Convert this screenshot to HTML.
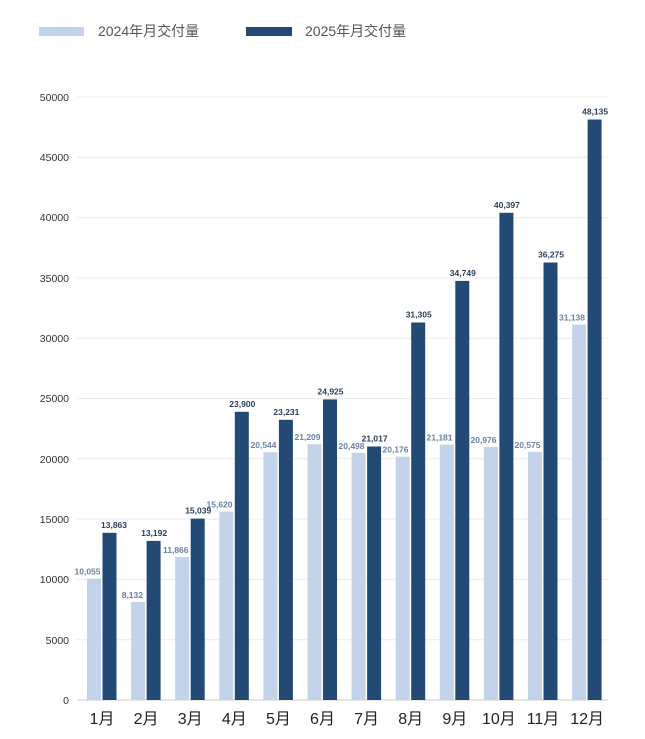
<!DOCTYPE html>
<html><head><meta charset="utf-8"><style>
html,body{margin:0;padding:0;background:#fff;}
svg{display:block;font-family:"Liberation Sans","Noto Sans CJK SC",sans-serif;}
</style></head><body>
<svg width="645" height="739" viewBox="0 0 645 739" xmlns="http://www.w3.org/2000/svg">
<rect x="39" y="27" width="45" height="9" fill="#c3d3e9"/>
<text x="98" y="36" font-size="14" fill="#555">2024年月交付量</text>
<rect x="246" y="27" width="46" height="9" fill="#234a74"/>
<text x="305" y="36" font-size="14" fill="#555">2025年月交付量</text>
<g stroke="#ececec" stroke-width="1">
<line x1="77" x2="608" y1="97" y2="97"/><line x1="77" x2="608" y1="157.3" y2="157.3"/>
<line x1="77" x2="608" y1="217.6" y2="217.6"/><line x1="77" x2="608" y1="277.9" y2="277.9"/>
<line x1="77" x2="608" y1="338.2" y2="338.2"/><line x1="77" x2="608" y1="398.5" y2="398.5"/>
<line x1="77" x2="608" y1="458.8" y2="458.8"/><line x1="77" x2="608" y1="519.1" y2="519.1"/>
<line x1="77" x2="608" y1="579.4" y2="579.4"/><line x1="77" x2="608" y1="639.7" y2="639.7"/>
</g>
<line x1="77" x2="608" y1="700" y2="700" stroke="#ccc"/>
<g font-size="10.5" fill="#333" text-anchor="end">
<text x="69" y="101">50000</text><text x="69" y="161">45000</text><text x="69" y="221">40000</text>
<text x="69" y="282">35000</text><text x="69" y="342">30000</text><text x="69" y="402">25000</text>
<text x="69" y="463">20000</text><text x="69" y="523">15000</text><text x="69" y="583">10000</text>
<text x="69" y="644">5000</text><text x="69" y="704">0</text>
</g>
<g fill="#c3d3e9">
<rect x="87" y="578.7" width="14" height="121.3"/>
<rect x="131.1" y="601.9" width="14" height="98.1"/>
<rect x="175.2" y="556.9" width="14" height="143.1"/>
<rect x="219.3" y="511.6" width="14" height="188.4"/>
<rect x="263.4" y="452.2" width="14" height="247.8"/>
<rect x="307.5" y="444.2" width="14" height="255.8"/>
<rect x="351.6" y="452.8" width="14" height="247.2"/>
<rect x="395.7" y="456.7" width="14" height="243.3"/>
<rect x="439.8" y="444.6" width="14" height="255.4"/>
<rect x="483.9" y="447" width="14" height="253"/>
<rect x="528" y="451.9" width="14" height="248.1"/>
<rect x="572.1" y="324.5" width="14" height="375.5"/>
</g>
<g fill="#234a74">
<rect x="102.5" y="532.8" width="14" height="167.2"/>
<rect x="146.6" y="540.9" width="14" height="159.1"/>
<rect x="190.7" y="518.6" width="14" height="181.4"/>
<rect x="234.8" y="411.8" width="14" height="288.2"/>
<rect x="278.9" y="419.8" width="14" height="280.2"/>
<rect x="323" y="399.4" width="14" height="300.6"/>
<rect x="367.1" y="446.5" width="14" height="253.5"/>
<rect x="411.2" y="322.5" width="14" height="377.5"/>
<rect x="455.3" y="280.9" width="14" height="419.1"/>
<rect x="499.4" y="212.8" width="14" height="487.2"/>
<rect x="543.5" y="262.5" width="14" height="437.5"/>
<rect x="587.6" y="119.5" width="14" height="580.5"/>
</g>
<g font-size="8.5" font-weight="bold" fill="#6a82a0" text-anchor="end">
<text x="100.5" y="574.7">10,055</text>
<text x="143" y="597.9">8,132</text>
<text x="188.5" y="552.9">11,866</text>
<text x="232.5" y="507.6">15,620</text>
<text x="276.5" y="448.2">20,544</text>
<text x="320.5" y="440.2">21,209</text>
<text x="364.5" y="448.8">20,498</text>
<text x="408.5" y="452.7">20,176</text>
<text x="452.5" y="440.6">21,181</text>
<text x="496.5" y="443">20,976</text>
<text x="540.5" y="447.9">20,575</text>
<text x="585" y="320.5">31,138</text>
</g>
<g font-size="8.5" font-weight="bold" fill="#2a3f5a" text-anchor="middle">
<text x="114" y="527.8">13,863</text>
<text x="154.1" y="535.9">13,192</text>
<text x="198.2" y="513.6">15,039</text>
<text x="242.3" y="406.8">23,900</text>
<text x="286.4" y="414.8">23,231</text>
<text x="330.5" y="394.4">24,925</text>
<text x="374.6" y="441.5">21,017</text>
<text x="418.7" y="317.5">31,305</text>
<text x="462.8" y="275.9">34,749</text>
<text x="506.9" y="207.8">40,397</text>
<text x="551" y="257.5">36,275</text>
<text x="595.1" y="114.5">48,135</text>
</g>
<g font-size="16" fill="#222" text-anchor="middle">
<text x="102" y="724">1月</text><text x="146.1" y="724">2月</text><text x="190.2" y="724">3月</text>
<text x="234.3" y="724">4月</text><text x="278.4" y="724">5月</text><text x="322.5" y="724">6月</text>
<text x="366.6" y="724">7月</text><text x="410.7" y="724">8月</text><text x="454.8" y="724">9月</text>
<text x="498.9" y="724">10月</text><text x="543" y="724">11月</text><text x="587.1" y="724">12月</text>
</g>
</svg>
</body></html>
